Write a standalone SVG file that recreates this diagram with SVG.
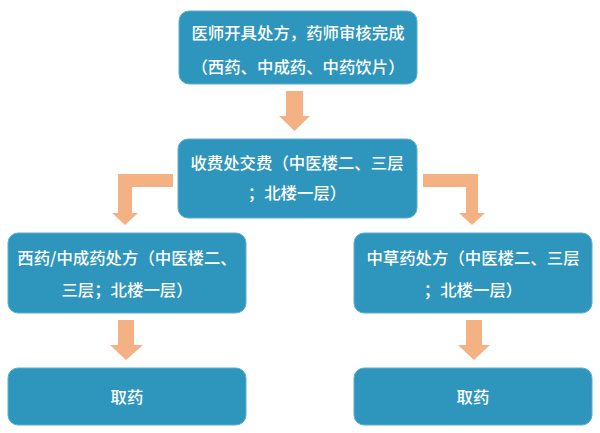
<svg xmlns="http://www.w3.org/2000/svg" width="600" height="433" viewBox="0 0 600 433">
<style>
.box{fill:#2E96BC;stroke:#5AAFD0;stroke-width:1}
.t{font-family:"Noto Sans CJK SC","Noto Sans",sans-serif;font-size:16.4px;font-weight:500;fill:#FFFFFF;text-anchor:middle}
.arr{fill:#F4B183}
</style>
<rect width="600" height="433" fill="#FFFFFF"/>
<g id="connectors">
<polygon class="arr" points="286,91 303,91 303,116 310,116 294.5,131 279,116 286,116"/>
<polygon class="arr" points="173,174 173,187 132,187 132,213 138,213 125,225 112,213 118,213 118,174"/>
<polygon class="arr" points="423,174 423,187 466,187 466,213 459,213 472,225 485,213 478,213 478,174"/>
<polygon class="arr" points="118,320 134,320 134,345 143,345 126,360 110,345 118,345"/>
<polygon class="arr" points="466,320 482,320 482,345 490,345 474,360 458,345 466,345"/>
</g>
<g id="node-prescribe">
<rect class="box" x="179" y="11" width="238" height="73" rx="10"/>
<text class="t" x="298" y="39">医师开具处方，药师审核完成</text>
<text class="t" x="298" y="73">（西药、中成药、中药饮片）</text>
</g>
<g id="node-pay">
<rect class="box" x="178" y="139" width="239" height="79" rx="10"/>
<text class="t" x="297" y="169">收费处交费（中医楼二、三层</text>
<text class="t" x="297" y="199">；北楼一层）</text>
</g>
<g id="node-western">
<rect class="box" x="8" y="233" width="238" height="80" rx="10"/>
<text class="t" x="127" y="264">西药/中成药处方（中医楼二、</text>
<text class="t" x="127" y="296">三层；北楼一层）</text>
</g>
<g id="node-herbal">
<rect class="box" x="354" y="233" width="238" height="80" rx="10"/>
<text class="t" x="473" y="264">中草药处方（中医楼二、三层</text>
<text class="t" x="473" y="296">；北楼一层）</text>
</g>
<g id="node-take-left">
<rect class="box" x="8" y="368" width="238" height="57" rx="10"/>
<text class="t" x="127" y="403">取药</text>
</g>
<g id="node-take-right">
<rect class="box" x="354" y="368" width="238" height="57" rx="10"/>
<text class="t" x="473" y="403">取药</text>
</g>
</svg>
